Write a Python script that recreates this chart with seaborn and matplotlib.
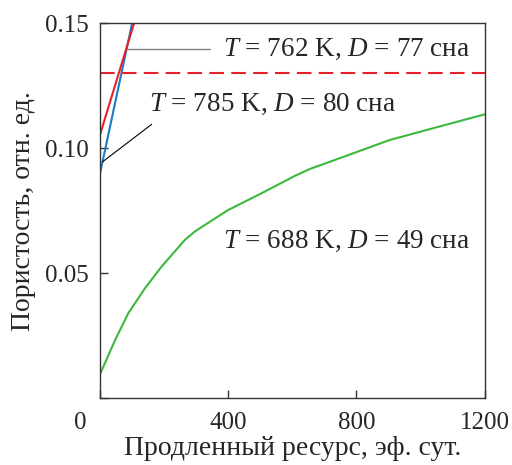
import numpy as np
import pandas as pd
import matplotlib
matplotlib.use("Agg")
import matplotlib.pyplot as plt
import seaborn as sns

# Data
green_x = [0, 48, 89, 141, 193, 265, 296, 400, 504, 607, 654, 747, 903, 1058, 1200]
green_y = [0.0093, 0.0233, 0.034, 0.044, 0.0527, 0.0633, 0.0667, 0.0753, 0.082,
           0.0889, 0.0917, 0.096, 0.1033, 0.1087, 0.1136]
blue_x = [0, 101]
blue_y = [0.0893, 0.15]
red_x = [0, 107]
red_y = [0.105, 0.15]
limit_y = 0.13

labels = [r"$T$ = 762 K, $D$ = 77 сна",
          r"$T$ = 785 K, $D$ = 80 сна",
          r"$T$ = 688 K, $D$ = 49 сна"]

sns.set_style("ticks")
plt.rcParams["font.family"] = ["Liberation Serif", "DejaVu Serif"]
plt.rcParams["mathtext.fontset"] = "custom"
plt.rcParams["mathtext.it"] = "Liberation Serif:italic"
plt.rcParams["mathtext.rm"] = "Liberation Serif"

fig = plt.figure(figsize=(5.12, 4.65), dpi=100)
ax = fig.add_axes([0.1947, 0.1434, 0.7523, 0.8065])

df_green = pd.DataFrame({"x": green_x, "y": green_y})
df_blue = pd.DataFrame({"x": blue_x, "y": blue_y})
df_red = pd.DataFrame({"x": red_x, "y": red_y})

sns.lineplot(data=df_green, x="x", y="y", ax=ax, color="#3cb93c", lw=1.5)
sns.lineplot(data=df_blue, x="x", y="y", ax=ax, color="#1a7bc8", lw=1.5)
sns.lineplot(data=df_red, x="x", y="y", ax=ax, color="#e8202a", lw=1.5)
ax.axhline(limit_y, color="#e8202a", lw=1.5, dashes=(7, 3.5))

ax.set_xlim(0, 1200)
ax.set_ylim(0, 0.15)
ax.set_xticks([0, 400, 800, 1200])
ax.set_xticklabels(["", "400", "800", "1200"])
ax.set_yticks([0, 0.05, 0.10, 0.15])
ax.set_yticklabels(["", "0.05", "0.10", "0.15"])
ax.tick_params(direction="in", length=6, width=1, labelsize=18, color="#333333")
ax.tick_params(axis="x", pad=10)
ax.tick_params(axis="y", pad=8)
for s in ax.spines.values():
    s.set_color("#333333")
    s.set_linewidth(1)
ax.text(-0.05, -0.065, "0", transform=ax.transAxes, fontsize=18,
        ha="center", va="center")

ax.set_xlabel("Продленный ресурс, эф. сут.", fontsize=20, labelpad=1)
ax.set_ylabel("Пористость, отн. ед.", fontsize=20, labelpad=6)

# annotations
ax.plot([86, 343], [0.1397, 0.1397], color="#808080", lw=1)
ax.text(385, 0.1397, labels[0], fontsize=19.5, va="center", ha="left")
ax.plot([9, 162], [0.0946, 0.1096], color="black", lw=0.8)
ax.text(155, 0.1175, labels[1], fontsize=19.5, va="center", ha="left")
ax.text(385, 0.0627, labels[2], fontsize=19.5, va="center", ha="left")

fig.savefig("out.png", dpi=100)
